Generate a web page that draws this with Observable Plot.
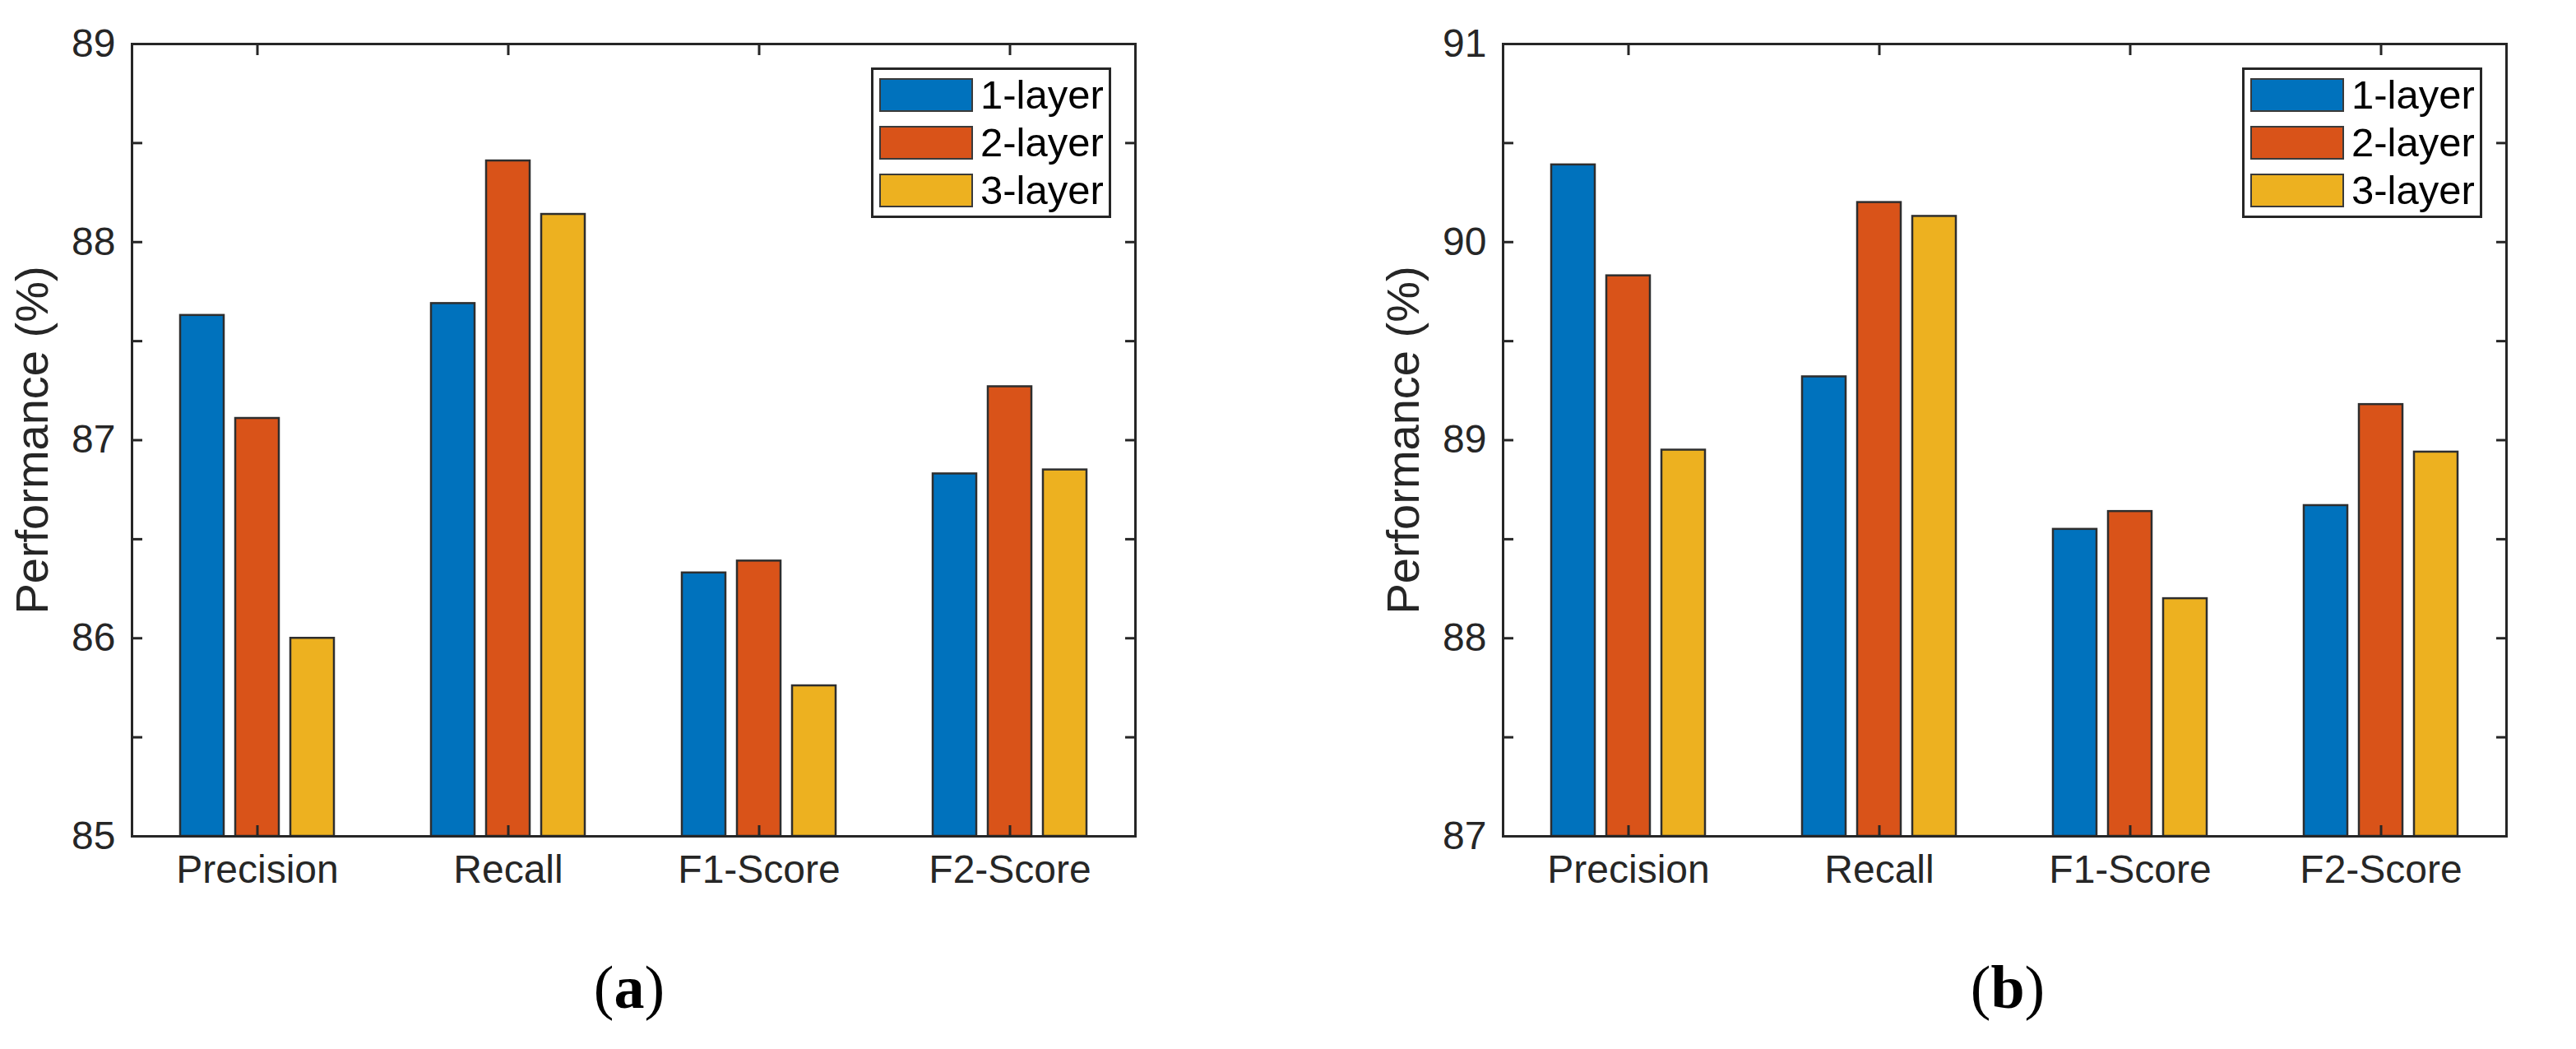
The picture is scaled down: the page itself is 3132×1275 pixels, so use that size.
<!DOCTYPE html>
<html>
<head>
<meta charset="utf-8">
<script src="https://cdn.jsdelivr.net/npm/d3@7"></script>
<script src="https://cdn.jsdelivr.net/npm/@observablehq/plot@0.6"></script>
<style>
  html, body { margin: 0; padding: 0; background: #fff; }
  #page { position: relative; width: 3132px; height: 1275px; background: #fff; overflow: hidden; }
  .panel { position: absolute; top: 0; width: 1400px; height: 1275px; }
  .legend { position: absolute; left: 1059px; top: 82px; width: 292px; height: 183px; box-sizing: border-box;
            border: 3px solid #262626; background: #fff; padding-top: 1px;
            font-family: "Liberation Sans", Arial, sans-serif; font-size: 49px; color: #000; }
  .legend .row { display: flex; align-items: center; height: 58px; }
  .legend .sw { width: 114px; height: 41px; box-sizing: border-box; border: 2.5px solid #3a3a3a; margin-left: 7px; margin-right: 9px; }
  .legend .lab { line-height: 1; }
  .caption { position: absolute; top: 1152px; width: 200px; text-align: center;
             font-family: "Liberation Serif", "Times New Roman", serif; font-size: 74px; color: #000; line-height: 96px; }
</style>
</head>
<body>
<div id="page"></div>
<script>
// ---- data ----
const categories = ["Precision", "Recall", "F1-Score", "F2-Score"];
const seriesNames = ["1-layer", "2-layer", "3-layer"];
const seriesColors = ["#0072BD", "#D95319", "#EDB120"];

const panelA_1layer = [87.63, 87.69, 86.33, 86.83];
const panelA_2layer = [87.11, 88.41, 86.39, 87.27];
const panelA_3layer = [86.00, 88.14, 85.76, 86.85];

const panelB_1layer = [90.39, 89.32, 88.55, 88.67];
const panelB_2layer = [89.83, 90.20, 88.64, 89.18];
const panelB_3layer = [88.95, 90.13, 88.20, 88.94];

const yDomainA = [85, 89];
const yDomainB = [87, 91];
const yTickLabelsA = [85, 86, 87, 88, 89];
const yTickLabelsB = [87, 88, 89, 90, 91];
const yTicksA = [85, 85.5, 86, 86.5, 87, 87.5, 88, 88.5, 89];
const yTicksB = [87, 87.5, 88, 88.5, 89, 89.5, 90, 90.5, 91];
const yTitle = "Performance (%)";
const captions = ["a", "b"];

// ---- build ----
function rowsOf(seriesArrays) {
  const rows = [];
  seriesArrays.forEach((vals, si) => {
    vals.forEach((v, ci) => rows.push({category: categories[ci], series: seriesNames[si], value: v}));
  });
  return rows;
}

const frameColor = "#262626";
const barOffsets = [-67, 0, 67];

function makePanel(seriesArrays, yDomain, yTicks, yLabels) {
  const rows = rowsOf(seriesArrays);
  const barMarks = seriesNames.map((s, i) =>
    Plot.barY(rows.filter(r => r.series === s), {
      x: "category", y1: yDomain[0], y2: "value",
      fill: seriesColors[i], stroke: "#2e2e2e", strokeWidth: 2.5,
      insetLeft: 126, insetRight: 126, dx: barOffsets[i]
    })
  );
  return Plot.plot({
    width: 1400, height: 1100,
    marginLeft: 160, marginRight: 20, marginTop: 53, marginBottom: 84,
    style: {fontFamily: "Liberation Sans, Arial, sans-serif", fontSize: "48px", color: frameColor, background: "transparent", overflow: "visible"},
    x: {domain: categories, padding: 0, label: null},
    y: {domain: yDomain, label: yTitle},
    marks: [
      ...barMarks,
      Plot.frame({stroke: frameColor, strokeWidth: 3}),
      Plot.axisY(yTicks, {anchor: "left", tickSize: -13, strokeWidth: 3, fill: "none", label: null}),
      Plot.axisY(yTicks, {anchor: "right", tickSize: -13, strokeWidth: 3, fill: "none", label: null}),
      Plot.axisY(yLabels, {anchor: "left", tickSize: 0, tickPadding: 20, tickFormat: d => String(d), label: null, fontSize: 48}),
      Plot.axisY([], {anchor: "left", tickSize: 0, label: yTitle, labelAnchor: "center", labelOffset: 142, labelArrow: "none", fontSize: 56}),
      Plot.axisX({anchor: "bottom", tickSize: -13, strokeWidth: 3, fill: "none", label: null}),
      Plot.axisX({anchor: "top", tickSize: -13, strokeWidth: 3, fill: "none", label: null}),
      Plot.axisX({anchor: "bottom", tickSize: 0, tickPadding: 22, label: null, fontSize: 48})
    ]
  });
}

const page = document.getElementById("page");
const panels = [
  {series: [panelA_1layer, panelA_2layer, panelA_3layer], dom: yDomainA, ticks: yTicksA, labels: yTickLabelsA, left: 0, capCenter: 765},
  {series: [panelB_1layer, panelB_2layer, panelB_3layer], dom: yDomainB, ticks: yTicksB, labels: yTickLabelsB, left: 1667, capCenter: 774}
];
panels.forEach((p, idx) => {
  const div = document.createElement("div");
  div.className = "panel";
  div.style.left = p.left + "px";
  const svg = makePanel(p.series, p.dom, p.ticks, p.labels);
  svg.style.position = "absolute";
  svg.style.left = "0px";
  svg.style.top = "0px";
  div.appendChild(svg);

  const leg = document.createElement("div");
  leg.className = "legend";
  seriesNames.forEach((s, i) => {
    const row = document.createElement("div");
    row.className = "row";
    const sw = document.createElement("div");
    sw.className = "sw";
    sw.style.background = seriesColors[i];
    const lab = document.createElement("span");
    lab.className = "lab";
    lab.textContent = s;
    row.appendChild(sw);
    row.appendChild(lab);
    leg.appendChild(row);
  });
  div.appendChild(leg);

  const cap = document.createElement("div");
  cap.className = "caption";
  cap.style.left = (p.capCenter - 100) + "px";
  cap.appendChild(document.createTextNode("("));
  const b = document.createElement("b");
  b.textContent = captions[idx];
  cap.appendChild(b);
  cap.appendChild(document.createTextNode(")"));
  div.appendChild(cap);

  page.appendChild(div);
});
</script>
</body>
</html>
